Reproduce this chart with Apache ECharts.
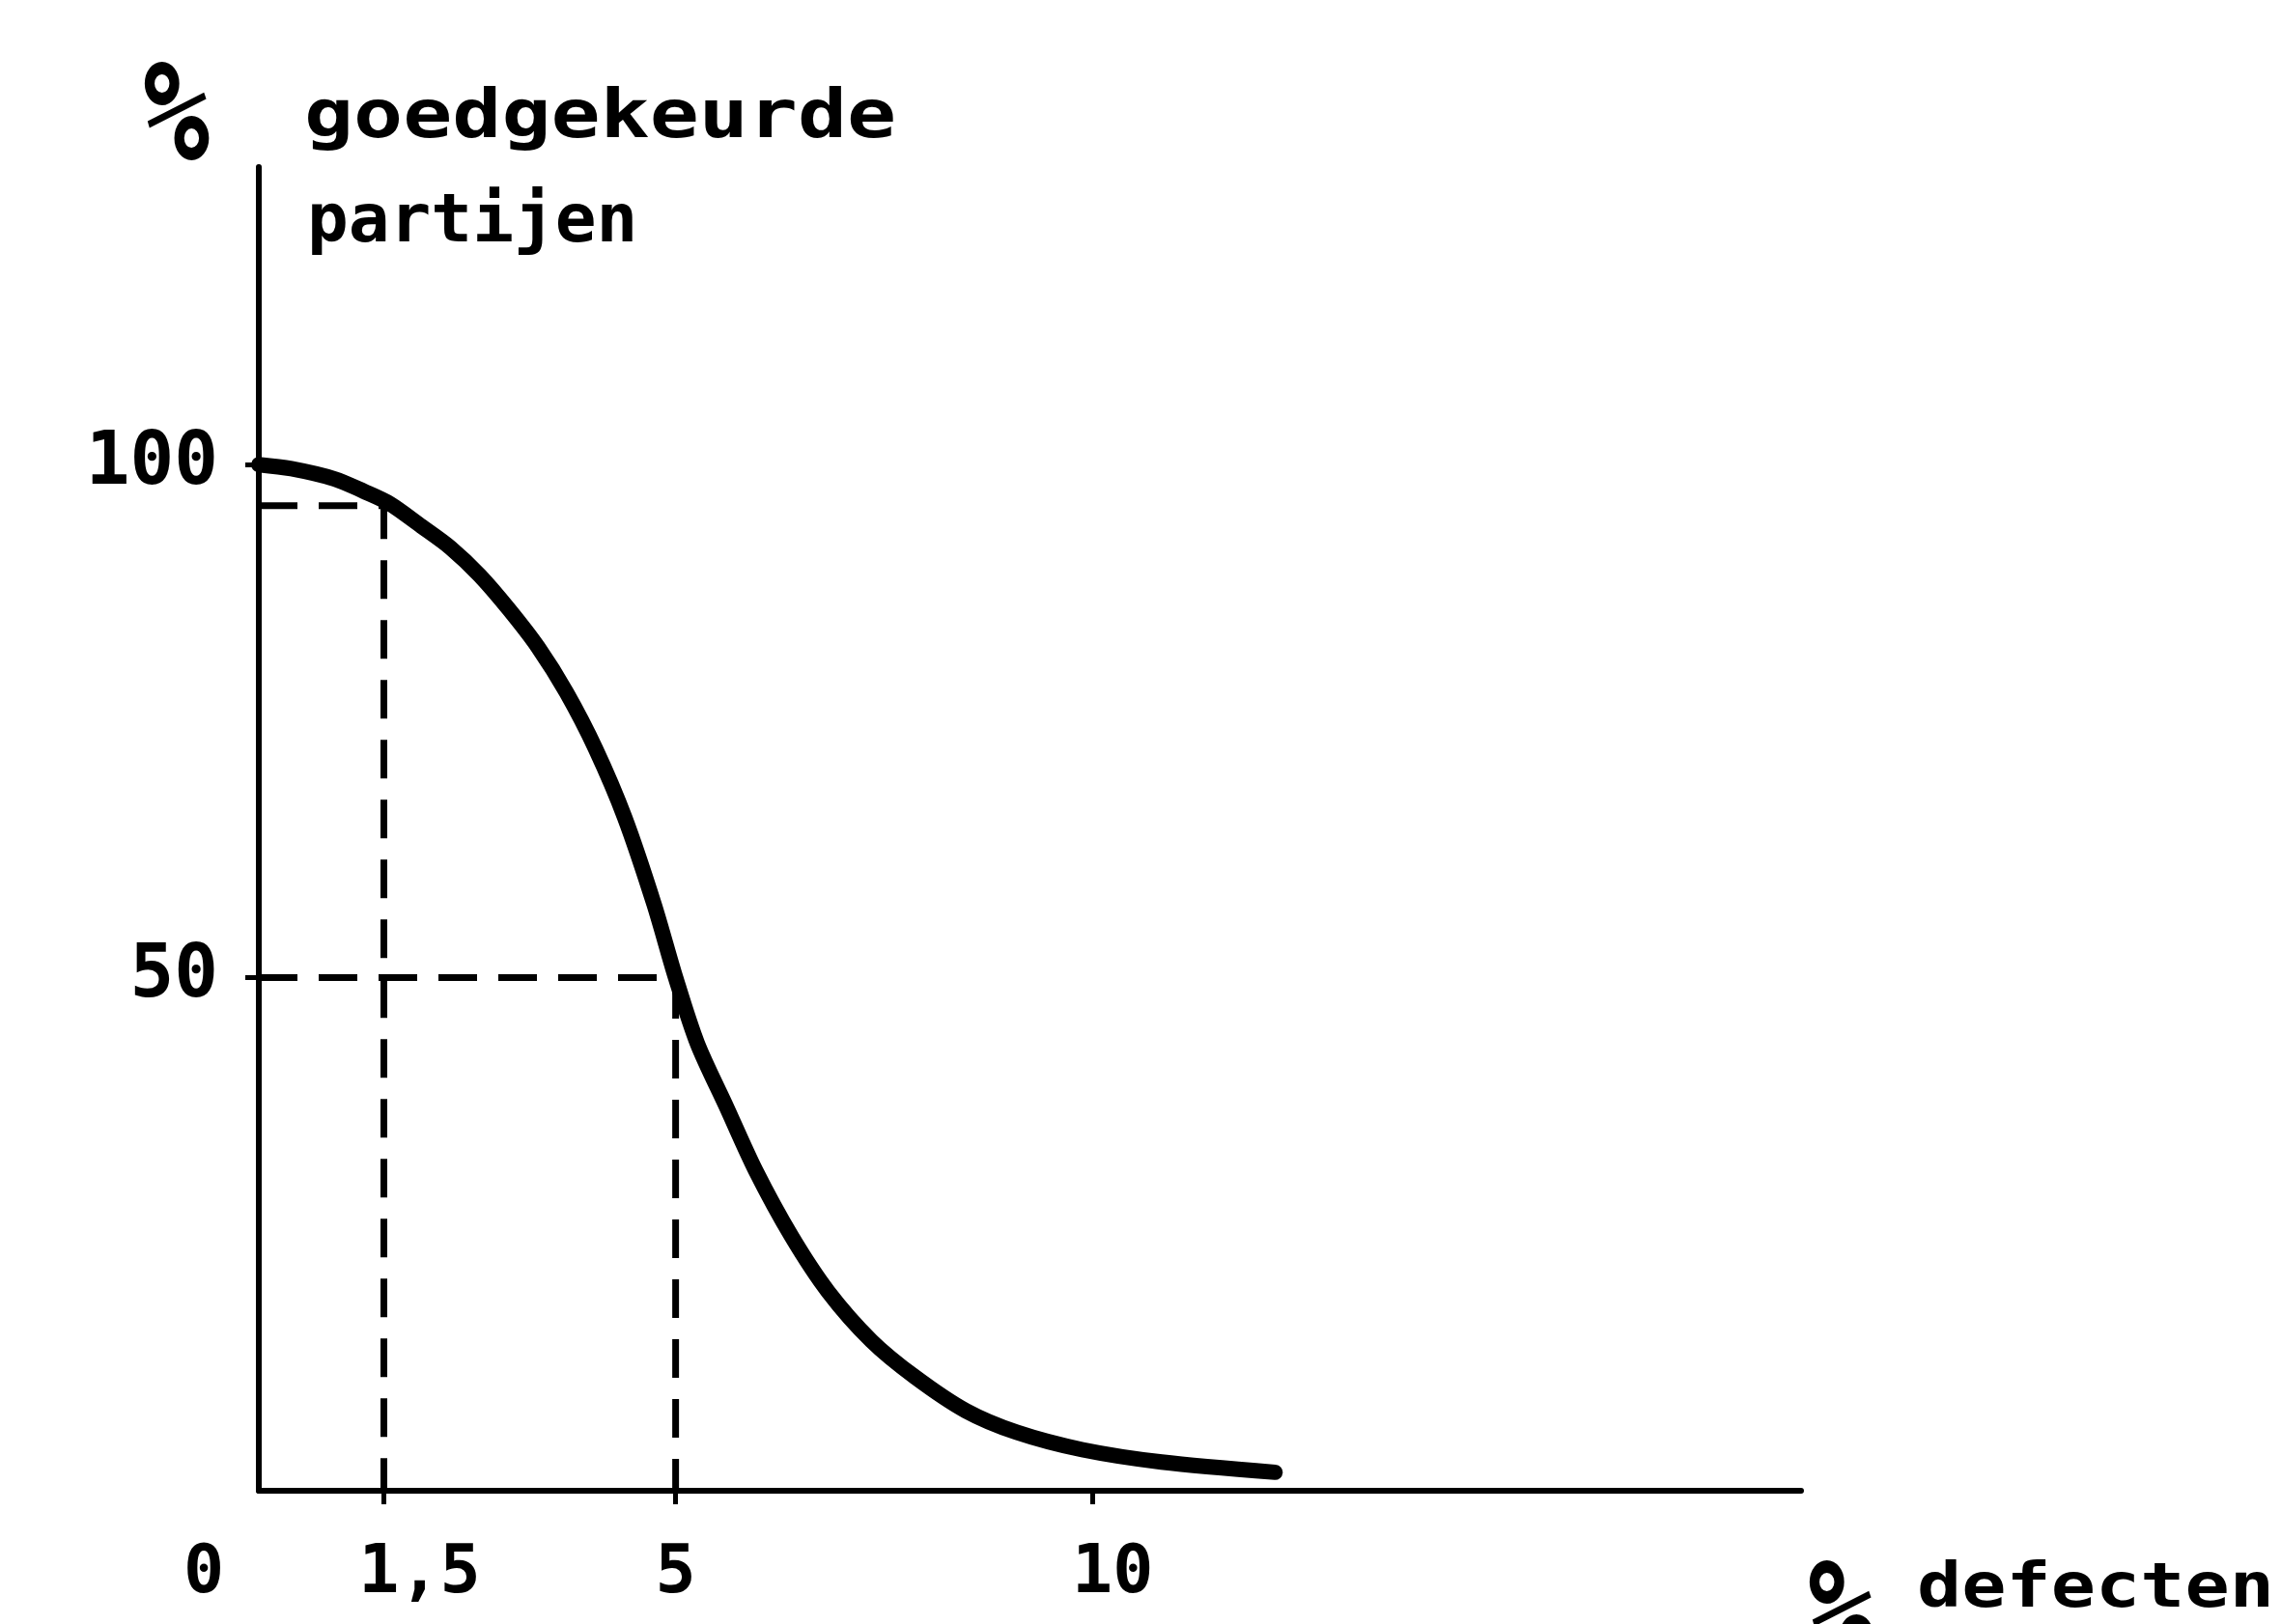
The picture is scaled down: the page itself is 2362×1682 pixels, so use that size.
<!DOCTYPE html>
<html lang="nl">
<head>
<meta charset="UTF-8">
<title>Goedgekeurde partijen</title>
<script src="https://cdn.jsdelivr.net/npm/echarts@6/dist/echarts.min.js"></script>
<style>
  html, body { margin: 0; padding: 0; background: #ffffff; }
  #chart { width: 2362px; height: 1682px; }
</style>
</head>
<body>
<div id="chart"></div>
<script>
  // curve: % defecten -> % goedgekeurde partijen
  var curveX = [0, 0.39, 0.91, 1.26, 1.57, 1.95, 2.3, 2.65, 3.0, 3.35, 3.69, 4.04, 4.39, 4.74,
                5.0, 5.26, 5.61, 5.96, 6.39, 6.83, 7.35, 7.87, 8.48, 9.09, 9.88, 10.83, 12.19];
  var curveY = [100, 99.6, 98.6, 97.4, 96.2, 94.0, 91.9, 89.2, 85.9, 82.2, 77.8, 72.3, 65.6, 57.2,
                50, 43.6, 37.4, 31.2, 24.8, 19.4, 14.6, 11.1, 7.8, 5.7, 4.0, 2.8, 1.8];

  // dashed helper lines
  var guideAX = [0, 1.5, 1.5];
  var guideAY = [96, 96, 0];
  var guideBX = [0, 5, 5];
  var guideBY = [50, 50, 0];

  // ticks
  var xTicks = [0, 1.5, 5, 10];
  var xTickLabels = ['0', '1,5', '5', '10'];
  var yTicks = [50, 100];
  var yTickLabels = ['50', '100'];

  function zip(xs, ys) {
    return xs.map(function (x, i) { return [x, ys[i]]; });
  }

  var FONT = '"DejaVu Sans Mono", monospace';
  var labelBase = { fontFamily: FONT, fontSize: 70, fontWeight: 'bold', color: '#000' };

  var chart = echarts.init(document.getElementById('chart'));

  var option = {
    backgroundColor: '#ffffff',
    animation: false,
    grid: { left: 268, top: 173, right: 497, bottom: 138, containLabel: false },
    xAxis: {
      type: 'value',
      min: 0,
      max: 18.5,
      axisLine: { show: true, onZero: false, lineStyle: { color: '#000', width: 6 } },
      axisTick: { show: true, customValues: [1.5, 5, 10], length: 14, lineStyle: { color: '#000', width: 5 } },
      splitLine: { show: false },
      axisLabel: {
        customValues: xTicks,
        margin: 52,
        fontFamily: FONT,
        fontSize: 70,
        fontWeight: 'bold',
        color: '#000',
        formatter: function (v) {
          var i = xTicks.indexOf(v);
          return '{t' + i + '|' + xTickLabels[i] + '}';
        },
        rich: {
          t0: Object.assign({ padding: [0, 114, 0, 0] }, labelBase),
          t1: Object.assign({ padding: [0, 0, 0, 74] }, labelBase),
          t2: Object.assign({}, labelBase),
          t3: Object.assign({ padding: [0, 0, 0, 42] }, labelBase)
        }
      }
    },
    yAxis: {
      type: 'value',
      min: 0,
      max: 129,
      axisLine: { show: true, onZero: false, lineStyle: { color: '#000', width: 6 } },
      axisTick: { show: true, customValues: yTicks, length: 14, lineStyle: { color: '#000', width: 5 } },
      splitLine: { show: false },
      axisLabel: {
        customValues: yTicks,
        margin: 42,
        fontFamily: FONT,
        fontSize: 76,
        fontWeight: 'bold',
        color: '#000',
        padding: [0, 0, 48, 0],
        formatter: function (v) {
          return yTickLabels[yTicks.indexOf(v)];
        }
      }
    },
    series: [
      {
        type: 'line',
        data: zip(guideAX, guideAY),
        symbol: 'none',
        lineStyle: { color: '#000', width: 7, type: [40, 22] },
        z: 2
      },
      {
        type: 'line',
        data: zip(guideBX, guideBY),
        symbol: 'none',
        lineStyle: { color: '#000', width: 7, type: [40, 22] },
        z: 2
      },
      {
        type: 'line',
        data: zip(curveX, curveY),
        smooth: 0.3,
        symbol: 'none',
        lineStyle: { color: '#000', width: 16, cap: 'round', join: 'round' },
        z: 3
      }
    ],
    graphic: [
      {
        type: 'text', x: 148, y: 128, scaleX: 0.82, scaleY: 1.05,
        style: { text: '%', font: 'bold 140px ' + FONT, fill: '#000', align: 'left', verticalAlign: 'middle' }
      },
      {
        type: 'text', x: 315, y: 124, scaleX: 1.23,
        style: { text: 'goedgekeurde', font: 'bold 69px ' + FONT, fill: '#000', align: 'left', verticalAlign: 'middle' }
      },
      {
        type: 'text', x: 318, y: 232, scaleX: 1.03,
        style: { text: 'partijen', font: 'bold 69px ' + FONT, fill: '#000', align: 'left', verticalAlign: 'middle' }
      },
      {
        type: 'text', x: 1872, y: 1680, scaleX: 0.82, scaleY: 1.05,
        style: { text: '%', font: 'bold 140px ' + FONT, fill: '#000', align: 'left', verticalAlign: 'middle' }
      },
      {
        type: 'text', x: 1985, y: 1647, scaleX: 1.2,
        style: { text: 'defecten', font: 'bold 64px ' + FONT, fill: '#000', align: 'left', verticalAlign: 'middle' }
      }
    ]
  };

  chart.setOption(option);

  window.addEventListener('resize', function () {
    chart.resize();
  });
</script>
</body>
</html>
